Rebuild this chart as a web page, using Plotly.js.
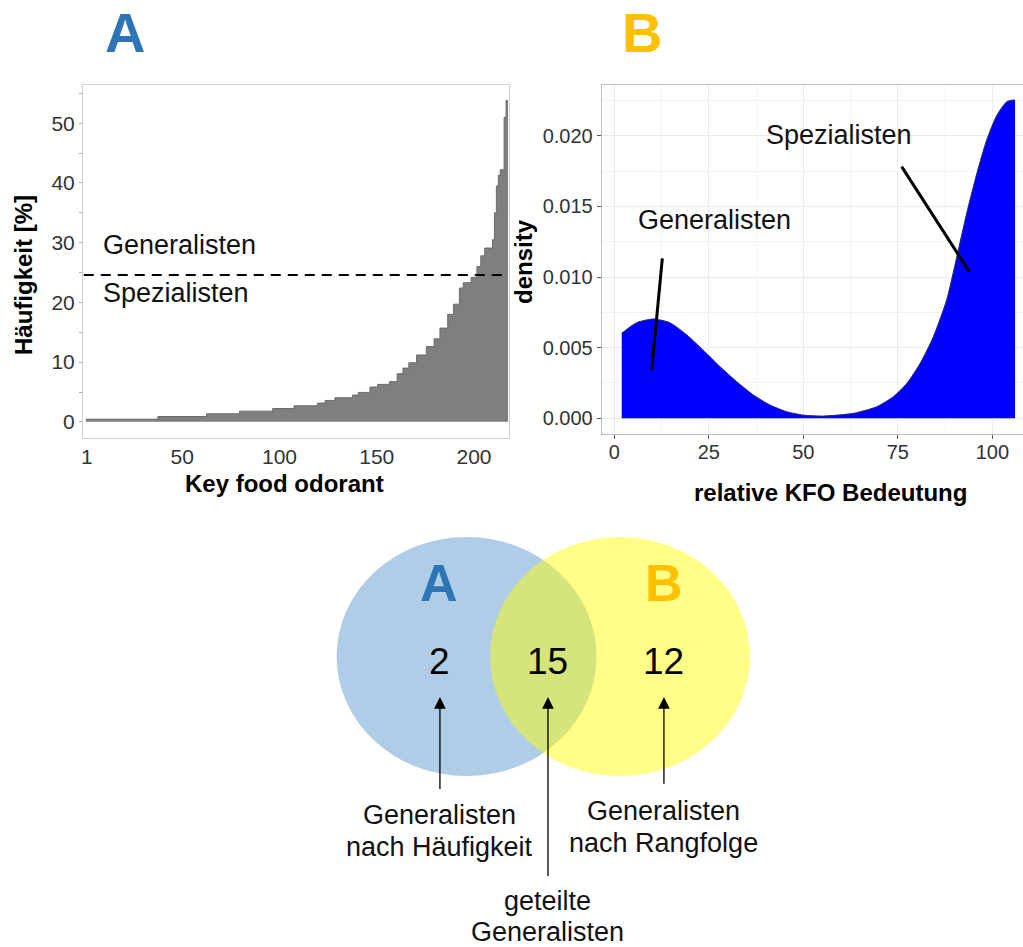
<!DOCTYPE html>
<html>
<head>
<meta charset="utf-8">
<script src="https://cdn.plot.ly/plotly-3.0.1.min.js"></script>
<style>
  html, body { margin: 0; padding: 0; background: #ffffff; overflow: hidden; }
  #chart { width: 1023px; height: 947px; }
</style>
</head>
<body>
<div id="chart"></div>
<script>
// ---------- Panel A: frequency of key food odorants (sorted, step area) ----------
const rankCounts = [37, 25, 17, 17, 11, 12, 4, 5, 9, 3, 6, 4, 6, 4, 3, 3, 4, 5, 4, 3, 4, 3, 3, 2, 4, 3, 2, 2, 4, 1, 1, 1, 1, 2, 1, 1];
const freqLevels = [0.45, 0.90, 1.35, 1.79, 2.24, 2.69, 3.14, 3.59, 4.04, 4.48, 4.93, 5.83, 6.28, 6.73, 8.07, 9.0, 9.9, 11.2, 12.6, 13.9, 15.7, 18.0, 19.7, 22.4, 23.3, 24.2, 26.0, 27.8, 29.1, 30.5, 35.0, 39.5, 41.3, 42.2, 51.0, 53.8];
const thresholdValue = 24.6;
const thresholdRanks = [-0.6, 216];
const rankTicks = [1, 50, 100, 150, 200];
const freqTicks = [0, 10, 20, 30, 40, 50];

// ---------- Panel B: density of relative KFO importance ----------
const kfoX = [1.96, 5.9, 10.3, 14.7, 19.2, 23.5, 28.0, 32.4, 36.8, 41.2, 45.6, 50.0, 55.3, 63.2, 69.4, 73.8, 77.4, 80.9, 84.4, 87.9, 90.6, 93.2, 95.9, 98.5, 101.2, 103.8, 105.6, 106.0];
const kfoDensity = [0.00602, 0.00677, 0.00703, 0.00677, 0.00590, 0.00483, 0.00365, 0.00259, 0.00165, 0.00094, 0.00047, 0.00023, 0.00016, 0.00035, 0.00082, 0.00153, 0.00248, 0.00389, 0.00578, 0.00837, 0.01144, 0.01451, 0.01734, 0.01970, 0.02146, 0.02241, 0.02253, 0.02252];
const kfoTicks = [0, 25, 50, 75, 100];
const densityTicks = [0, 0.005, 0.010, 0.015, 0.020];
// annotation segments (x0, x1) / (y0, y1)
const specSegX = [76.0, 93.9];
const specSegY = [0.01781, 0.01038];
const genSegX = [12.7, 9.9];
const genSegY = [0.01132, 0.00342];

// ---------- Venn ----------
const vennSets = ['A', 'B'];
const vennCounts = [2, 15, 12];   // only A, shared, only B
const vennLabelLine1 = ['Generalisten', 'geteilte', 'Generalisten'];
const vennLabelLine2 = ['nach Häufigkeit', 'Generalisten', 'nach Rangfolge'];

// ---------- helpers ----------
const W = 1023, H = 947;
const px = v => v / W;
const py = v => 1 - v / H;
const FONT = 'Liberation Sans, Arial, sans-serif';
const BLUE = '#2E75B6', GOLD = '#FFC000';
const TXT = '#111111';
const LABEL_SIZE = 27;

// build step area
const stepX = [], stepY = [];
let start = 0.5;
rankCounts.forEach((c, i) => { stepX.push(start); stepY.push(freqLevels[i]); start += c; });
stepX.push(start); stepY.push(freqLevels[freqLevels.length - 1]);

const traces = [
  { x: stepX, y: stepY, type: 'scatter', mode: 'lines', line: { shape: 'hv', color: '#6b6b6b', width: 1 },
    fill: 'tozeroy', fillcolor: '#7f7f7f', xaxis: 'x', yaxis: 'y', hoverinfo: 'skip', showlegend: false },
  { x: thresholdRanks, y: [thresholdValue, thresholdValue], type: 'scatter', mode: 'lines',
    line: { color: '#000', width: 2, dash: '10px,7px' }, xaxis: 'x', yaxis: 'y', hoverinfo: 'skip', showlegend: false },
  { x: kfoX, y: kfoDensity, type: 'scatter', mode: 'lines', line: { shape: 'spline', smoothing: 0.6, color: '#2b2b55', width: 1 },
    fill: 'tozeroy', fillcolor: '#0000ff', xaxis: 'x2', yaxis: 'y2', hoverinfo: 'skip', showlegend: false },
  { x: specSegX, y: specSegY, type: 'scatter', mode: 'lines', line: { color: '#000', width: 3 },
    xaxis: 'x2', yaxis: 'y2', hoverinfo: 'skip', showlegend: false },
  { x: genSegX, y: genSegY, type: 'scatter', mode: 'lines', line: { color: '#000', width: 3 },
    xaxis: 'x2', yaxis: 'y2', hoverinfo: 'skip', showlegend: false },
  { x: [], y: [], type: 'scatter', xaxis: 'x3', yaxis: 'y3', hoverinfo: 'skip', showlegend: false }
];

const tickFontA = { family: FONT, size: 21, color: '#333333' };
const tickFontB = { family: FONT, size: 20, color: '#333333' };

// Venn geometry (units of circle x-radius)
const vennCX = [-0.59, 0.59], vennRX = 1, vennRY = 0.92;
const vennFill = ['rgb(176,205,232)', 'rgba(255,255,0,0.47)'];
const regionX = [-0.795, 0.036, 0.928];
const arrowTailY = [-1.03, -1.70, -0.99];
const labelY1 = [-1.217, -1.882, -1.191];
const labelY2 = [-1.463, -2.120, -1.434];

const shapes = vennSets.map((s, i) => ({
  type: 'circle', xref: 'x3', yref: 'y3',
  x0: vennCX[i] - vennRX, x1: vennCX[i] + vennRX, y0: -vennRY, y1: vennRY,
  fillcolor: vennFill[i], line: { width: 0 }, layer: 'above'
}));

function paperText(text, x, y, size, color, angle) {
  return { text: text, xref: 'paper', yref: 'paper', x: px(x), y: py(y), xanchor: 'center', yanchor: 'middle',
    textangle: angle || 0, showarrow: false, font: { family: FONT, size: size, color: color } };
}

const annotations = [
  // big panel letters
  paperText('<b>A</b>', 125, 32, 56, BLUE),
  paperText('<b>B</b>', 642, 32, 56, GOLD),
  // axis titles
  paperText('<b>Häufigkeit [%]</b>', 23, 275, 24, '#000', -90),
  paperText('<b>Key food odorant</b>', 284, 483, 24, '#000'),
  paperText('<b>density</b>', 523, 262, 24, '#000', -90),
  paperText('<b>relative KFO Bedeutung</b>', 830, 493, 24, '#000'),
  // panel A labels
  { text: 'Generalisten', xref: 'x', yref: 'y', x: 8.4, y: 29.6, xanchor: 'left', yanchor: 'middle', showarrow: false,
    font: { family: FONT, size: LABEL_SIZE, color: TXT } },
  { text: 'Spezialisten', xref: 'x', yref: 'y', x: 8.4, y: 21.6, xanchor: 'left', yanchor: 'middle', showarrow: false,
    font: { family: FONT, size: LABEL_SIZE, color: TXT } },
  // panel B labels
  { text: 'Spezialisten', xref: 'x2', yref: 'y2', x: 59.5, y: 0.02005, xanchor: 'center', yanchor: 'middle', showarrow: false,
    font: { family: FONT, size: LABEL_SIZE, color: TXT } },
  { text: 'Generalisten', xref: 'x2', yref: 'y2', x: 26.6, y: 0.01403, xanchor: 'center', yanchor: 'middle', showarrow: false,
    font: { family: FONT, size: LABEL_SIZE, color: TXT } },
  // Venn set letters
  { text: '<b>' + vennSets[0] + '</b>', xref: 'x3', yref: 'y3', x: -0.802, y: 0.565, xanchor: 'center', yanchor: 'middle', showarrow: false,
    font: { family: FONT, size: 52, color: BLUE } },
  { text: '<b>' + vennSets[1] + '</b>', xref: 'x3', yref: 'y3', x: 0.928, y: 0.565, xanchor: 'center', yanchor: 'middle', showarrow: false,
    font: { family: FONT, size: 52, color: GOLD } }
];

vennCounts.forEach((c, i) => {
  annotations.push({ text: String(c), xref: 'x3', yref: 'y3', x: regionX[i], y: -0.035, xanchor: 'center', yanchor: 'middle', showarrow: false,
    font: { family: FONT, size: 37, color: '#000' } });
  annotations.push({ text: '', xref: 'x3', yref: 'y3', axref: 'x3', ayref: 'y3',
    x: regionX[i], y: -0.311, ax: regionX[i], ay: arrowTailY[i],
    showarrow: true, arrowhead: 2, arrowsize: 1.8, arrowwidth: 1.3, arrowcolor: '#000' });
  annotations.push({ text: vennLabelLine1[i], xref: 'x3', yref: 'y3', x: regionX[i], y: labelY1[i], xanchor: 'center', yanchor: 'middle', showarrow: false,
    font: { family: FONT, size: LABEL_SIZE, color: TXT } });
  annotations.push({ text: vennLabelLine2[i], xref: 'x3', yref: 'y3', x: regionX[i], y: labelY2[i], xanchor: 'center', yanchor: 'middle', showarrow: false,
    font: { family: FONT, size: LABEL_SIZE, color: TXT } });
});

const layout = {
  width: W, height: H,
  margin: { l: 0, r: 0, t: 0, b: 0 },
  paper_bgcolor: '#ffffff', plot_bgcolor: 'rgba(0,0,0,0)',
  showlegend: false,
  xaxis: {
    domain: [px(83), px(509)], range: [-1, 218], anchor: 'y',
    tickmode: 'array', tickvals: rankTicks, ticks: '', tickfont: tickFontA,
    showgrid: false, zeroline: false, showline: true, mirror: true, linecolor: '#d0d0d0', linewidth: 1,
    ticklabelstandoff: 0
  },
  yaxis: {
    domain: [py(438), py(85)], range: [-2.7, 56.4], anchor: 'x',
    tickmode: 'array', tickvals: freqTicks, ticks: 'outside', ticklen: 3, tickcolor: '#aaaaaa', tickfont: tickFontA,
    minor: { dtick: 5, tick0: 0, ticks: 'outside', ticklen: 3, tickcolor: '#aaaaaa', showgrid: false },
    showgrid: false, zeroline: false, showline: true, mirror: true, linecolor: '#d0d0d0', linewidth: 1
  },
  xaxis2: {
    domain: [px(601.7), 1], range: [-3.33, 108.1], anchor: 'y2',
    tickmode: 'array', tickvals: kfoTicks, ticks: 'outside', ticklen: 4, tickcolor: '#555', tickfont: tickFontB,
    showgrid: true, gridcolor: '#ebebeb', gridwidth: 1,
    minor: { dtick: 12.5, tick0: 0, showgrid: true, gridcolor: '#f3f3f3', gridwidth: 1 },
    zeroline: false, showline: true, mirror: true, linecolor: '#bdbdbd', linewidth: 1,
    ticklabelstandoff: -4
  },
  yaxis2: {
    domain: [py(434), py(85)], range: [-0.00111, 0.02359], anchor: 'x2',
    tickmode: 'array', tickvals: densityTicks, tickformat: '.3f', ticks: 'outside', ticklen: 4, tickcolor: '#555', tickfont: tickFontB,
    showgrid: true, gridcolor: '#ebebeb', gridwidth: 1,
    minor: { dtick: 0.0025, tick0: 0, showgrid: true, gridcolor: '#f3f3f3', gridwidth: 1 },
    zeroline: false, showline: true, mirror: false, linecolor: '#bdbdbd', linewidth: 1
  },
  xaxis3: {
    domain: [0, 1], range: [-4.179, 3.690], anchor: 'y3',
    visible: false, showgrid: false, zeroline: false, fixedrange: true
  },
  yaxis3: {
    domain: [0, 0.48], range: [-2.2346, 1.262], anchor: 'x3',
    visible: false, showgrid: false, zeroline: false, fixedrange: true
  },
  shapes: shapes,
  annotations: annotations
};

Plotly.newPlot('chart', traces, layout, { staticPlot: true, displayModeBar: false });
</script>
</body>
</html>
